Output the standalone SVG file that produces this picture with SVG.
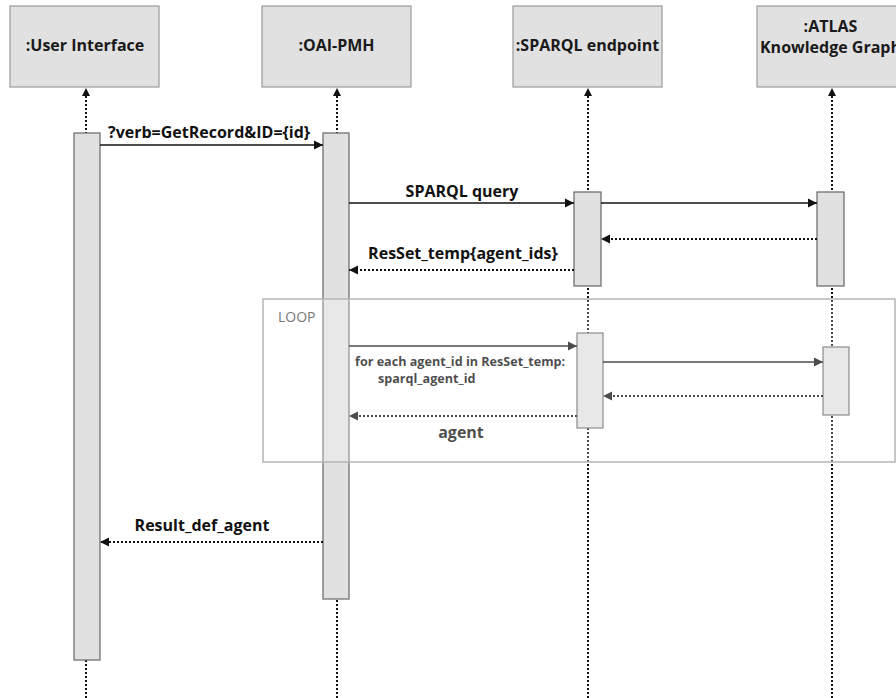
<svg xmlns="http://www.w3.org/2000/svg" width="896" height="698" viewBox="0 0 896 698">
<defs>
<style>
.box{fill:#e1e1e1;stroke:#9a9a9a;stroke-width:1.2}
.title{font-family:"Open Sans","Liberation Sans",sans-serif;font-weight:700;font-size:16px;fill:#1a1a1a;text-anchor:middle}
.life{stroke:#111;stroke-width:2;stroke-dasharray:2 2;fill:none}
.act{fill:#e1e1e1;stroke:#666;stroke-width:1.2}
.msg{stroke:#111;stroke-width:1.6;fill:none;marker-end:url(#arr)}
.ret{stroke:#111;stroke-width:1.8;stroke-dasharray:2 2;fill:none;marker-end:url(#arr)}
.lbl{font-family:"Open Sans","Liberation Sans",sans-serif;font-weight:700;font-size:16px;fill:#111}
.small{font-family:"Open Sans","Liberation Sans",sans-serif;font-weight:700;font-size:12.6px;fill:#111}
.frame{fill:#fff;fill-opacity:0.25;stroke:#b5b5b5;stroke-width:1.5}
.loopl{font-family:"Open Sans","Liberation Sans",sans-serif;font-size:14px;fill:#777}
</style>
<marker id="arr" markerUnits="userSpaceOnUse" markerWidth="10" markerHeight="10" refX="9" refY="5" orient="auto">
<path d="M0,0.5 L9,5 L0,9.5 z" fill="#111"/>
</marker>
</defs>
<rect width="896" height="698" fill="#fff"/>

<g id="ui">
<rect class="box" x="10" y="6" width="149" height="81"/>
<text class="title" x="85" y="51">:User Interface</text>
<line class="life" x1="86" y1="96" x2="86" y2="698"/>
<polygon points="86,88 82,96 90,96" fill="#111"/>
</g>
<g id="oai">
<rect class="box" x="262" y="6" width="149" height="81"/>
<text class="title" x="336.5" y="51">:OAI-PMH</text>
<line class="life" x1="337" y1="96" x2="337" y2="698"/>
<polygon points="337,88 333,96 341,96" fill="#111"/>
</g>
<g id="sparql">
<rect class="box" x="513" y="6" width="149" height="81"/>
<text class="title" x="587.5" y="51">:SPARQL endpoint</text>
<line class="life" x1="588" y1="96" x2="588" y2="698"/>
<polygon points="588,88 584,96 592,96" fill="#111"/>
</g>
<g id="atlas">
<rect class="box" x="757" y="6" width="149" height="81"/>
<text class="title" x="830.5" y="32">:ATLAS</text>
<text class="title" x="830.5" y="53">Knowledge Graph</text>
<line class="life" x1="832" y1="96" x2="832" y2="698"/>
<polygon points="832,88 828,96 836,96" fill="#111"/>
</g>

<g id="activations">
<rect class="act" x="74" y="133" width="26" height="527"/>
<rect class="act" x="323" y="133" width="26" height="466"/>
<rect class="act" x="574" y="192" width="27" height="94"/>
<rect class="act" x="817" y="192" width="27" height="94"/>
<rect class="act" x="577" y="333" width="26" height="95"/>
<rect class="act" x="823" y="347" width="26" height="68"/>
</g>

<g id="connectors">
<line class="msg" x1="100" y1="145" x2="323" y2="145"/>
<text class="lbl" x="108" y="138">?verb=GetRecord&amp;ID={id}</text>
<line class="msg" x1="349" y1="203" x2="574" y2="203"/>
<text class="lbl" x="462" y="197" text-anchor="middle">SPARQL query</text>
<line class="msg" x1="601" y1="203" x2="817" y2="203"/>
<line class="ret" x1="817" y1="239" x2="601" y2="239"/>
<line class="ret" x1="574" y1="270" x2="349" y2="270"/>
<text class="lbl" x="463" y="259" text-anchor="middle">ResSet_temp{agent_ids}</text>
<line class="msg" x1="349" y1="346" x2="577" y2="346"/>
<text class="small" x="355" y="366">for each agent_id in ResSet_temp:</text>
<text class="small" x="378" y="383">sparql_agent_id</text>
<line class="msg" x1="603" y1="362" x2="823" y2="362"/>
<line class="ret" x1="823" y1="396" x2="603" y2="396"/>
<line class="ret" x1="577" y1="416" x2="349" y2="416"/>
<text class="lbl" x="461" y="438" text-anchor="middle">agent</text>
<line class="ret" x1="323" y1="542" x2="100" y2="542"/>
<text class="lbl" x="202" y="531" text-anchor="middle">Result_def_agent</text>
</g>

<g id="loop">
<rect class="frame" x="263" y="299" width="632" height="163"/>
<text class="loopl" x="278" y="322">LOOP</text>
</g>
</svg>
